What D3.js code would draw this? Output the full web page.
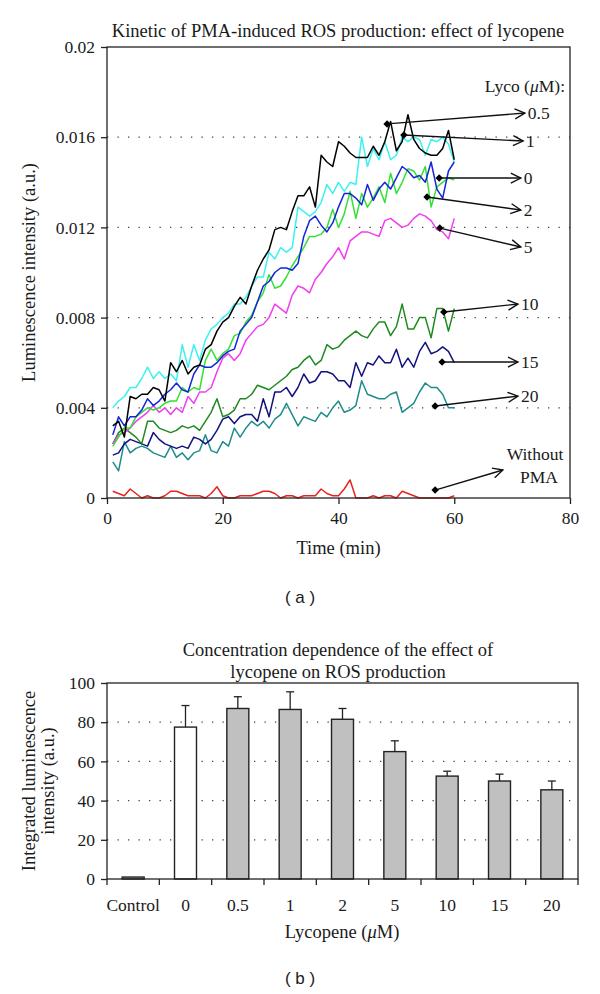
<!DOCTYPE html>
<html>
<head>
<meta charset="utf-8">
<script src="https://cdnjs.cloudflare.com/ajax/libs/d3/7.8.5/d3.min.js"></script>
<style>
  body { margin: 0; background: #fff; }
  svg text { font-family: "Liberation Serif", "DejaVu Serif", serif; fill: #1a1a1a; }
  .panel { font-family: "Liberation Sans", Arial, sans-serif; }
</style>
</head>
<body>
<svg id="chart" width="600" height="994"></svg>
<script>
// time points (min)
var minutes = [1,2,3,4,5,6,7,8,9,10,11,12,13,14,15,16,17,18,19,20,
  21,22,23,24,25,26,27,28,29,30,31,32,33,34,35,36,37,38,39,40,
  41,42,43,44,45,46,47,48,49,50,51,52,53,54,55,56,57,58,59,60];

// luminescence per lycopene concentration
var lyco05 = [0.0032,0.0034,0.0027,0.0045,0.0044,0.0046,0.0046,0.0049,0.0048,0.0043,
  0.0060,0.0056,0.0061,0.0055,0.0058,0.0059,0.0066,0.0068,0.0074,0.0078,
  0.0080,0.0085,0.0089,0.0086,0.0094,0.0101,0.0106,0.0110,0.0119,0.0120,
  0.0119,0.0127,0.0134,0.0134,0.0138,0.0129,0.0152,0.0149,0.0147,0.0158,
  0.0156,0.0153,0.0151,0.0151,0.0151,0.0156,0.0152,0.0158,0.0167,0.0154,
  0.0158,0.0170,0.0159,0.0155,0.0153,0.0152,0.0152,0.0155,0.0163,0.0150];
var lyco1 = [0.0040,0.0043,0.0045,0.0049,0.0049,0.0053,0.0058,0.0053,0.0056,0.0053,
  0.0055,0.0052,0.0068,0.0058,0.0068,0.0061,0.0070,0.0075,0.0077,0.0080,
  0.0082,0.0086,0.0086,0.0089,0.0094,0.0098,0.0098,0.0109,0.0106,0.0111,
  0.0109,0.0111,0.0129,0.0127,0.0125,0.0127,0.0131,0.0139,0.0135,0.0140,
  0.0136,0.0140,0.0139,0.0160,0.0147,0.0155,0.0150,0.0158,0.0150,0.0152,
  0.0160,0.0158,0.0160,0.0159,0.0152,0.0159,0.0158,0.0160,0.0157,0.0149];
var lyco0 = [0.0028,0.0036,0.0032,0.0036,0.0036,0.0039,0.0044,0.0041,0.0043,0.0046,
  0.0048,0.0051,0.0048,0.0047,0.0055,0.0059,0.0058,0.0058,0.0060,0.0063,
  0.0065,0.0066,0.0074,0.0077,0.0080,0.0087,0.0094,0.0096,0.0100,0.0102,
  0.0102,0.0101,0.0104,0.0116,0.0123,0.0125,0.0121,0.0118,0.0122,0.0129,
  0.0135,0.0135,0.0133,0.0130,0.0139,0.0132,0.0137,0.0140,0.0137,0.0142,
  0.0147,0.0145,0.0142,0.0143,0.0140,0.0149,0.0137,0.0133,0.0145,0.0149];
var lyco2 = [0.0023,0.0027,0.0031,0.0031,0.0036,0.0038,0.0040,0.0039,0.0040,0.0042,
  0.0043,0.0043,0.0049,0.0047,0.0049,0.0048,0.0061,0.0066,0.0061,0.0064,
  0.0066,0.0072,0.0073,0.0078,0.0081,0.0087,0.0091,0.0099,0.0093,0.0094,
  0.0098,0.0103,0.0107,0.0111,0.0116,0.0116,0.0117,0.0120,0.0128,0.0120,
  0.0126,0.0136,0.0124,0.0135,0.0129,0.0133,0.0138,0.0131,0.0144,0.0135,
  0.0140,0.0146,0.0145,0.0141,0.0147,0.0129,0.0138,0.0140,0.0142,0.0141];
var lyco5 = [0.0024,0.0028,0.0029,0.0031,0.0034,0.0036,0.0038,0.0041,0.0038,0.0040,
  0.0037,0.0040,0.0038,0.0045,0.0042,0.0047,0.0047,0.0049,0.0056,0.0062,
  0.0064,0.0061,0.0064,0.0070,0.0073,0.0076,0.0077,0.0080,0.0086,0.0084,
  0.0082,0.0090,0.0094,0.0093,0.0091,0.0097,0.0100,0.0104,0.0107,0.0111,
  0.0106,0.0114,0.0116,0.0118,0.0118,0.0117,0.0116,0.0123,0.0124,0.0122,
  0.0120,0.0121,0.0124,0.0126,0.0125,0.0123,0.0119,0.0118,0.0115,0.0124];
var lyco10 = [0.0024,0.0029,0.0031,0.0029,0.0027,0.0024,0.0034,0.0034,0.0031,0.0030,
  0.0029,0.0030,0.0032,0.0031,0.0032,0.0030,0.0034,0.0038,0.0044,0.0036,
  0.0037,0.0039,0.0044,0.0044,0.0046,0.0050,0.0049,0.0048,0.0050,0.0052,
  0.0054,0.0057,0.0058,0.0061,0.0063,0.0059,0.0061,0.0068,0.0066,0.0067,
  0.0070,0.0072,0.0074,0.0072,0.0071,0.0075,0.0078,0.0078,0.0072,0.0076,
  0.0086,0.0075,0.0075,0.0080,0.0080,0.0071,0.0084,0.0084,0.0074,0.0084];
var lyco15 = [0.0019,0.0020,0.0024,0.0026,0.0025,0.0024,0.0023,0.0029,0.0026,0.0024,
  0.0023,0.0022,0.0023,0.0022,0.0027,0.0026,0.0024,0.0026,0.0030,0.0035,
  0.0036,0.0033,0.0036,0.0037,0.0037,0.0034,0.0044,0.0036,0.0047,0.0047,
  0.0049,0.0045,0.0049,0.0055,0.0051,0.0052,0.0056,0.0056,0.0055,0.0052,
  0.0052,0.0049,0.0060,0.0054,0.0060,0.0059,0.0063,0.0060,0.0060,0.0066,
  0.0058,0.0062,0.0058,0.0065,0.0069,0.0064,0.0065,0.0067,0.0065,0.0060];
var lyco20 = [0.0016,0.0012,0.0025,0.0020,0.0022,0.0023,0.0022,0.0020,0.0019,0.0018,
  0.0023,0.0018,0.0020,0.0017,0.0020,0.0021,0.0028,0.0021,0.0020,0.0025,
  0.0023,0.0031,0.0027,0.0031,0.0034,0.0032,0.0034,0.0031,0.0035,0.0037,
  0.0042,0.0037,0.0032,0.0036,0.0035,0.0034,0.0038,0.0036,0.0040,0.0043,
  0.0038,0.0039,0.0041,0.0052,0.0046,0.0045,0.0044,0.0044,0.0046,0.0047,
  0.0038,0.0040,0.0042,0.0047,0.0051,0.0049,0.0049,0.0046,0.0040,0.0040];
var noPMA = [0.0003,0.0002,0.0001,0.0004,0.0002,0.0000,0.0001,0.0000,0.0000,0.0001,
  0.0003,0.0003,0.0002,0.0001,0.0001,0.0001,0.0000,0.0002,0.0005,0.0001,
  0.0000,0.0000,0.0001,0.0001,0.0001,0.0002,0.0003,0.0003,0.0002,0.0000,
  0.0001,0.0001,0.0000,0.0001,0.0001,0.0001,0.0004,0.0002,0.0001,0.0001,
  0.0004,0.0008,0.0000,0.0000,0.0000,0.0001,0.0000,0.0001,0.0001,0.0000,
  0.0003,0.0002,0.0001,0.0000,0.0000,0.0000,0.0000,0.0000,0.0000,0.0001];

// bar chart (b)
var concLabels = ["Control","0","0.5","1","2","5","10","15","20"];
var integrated = [1, 77.5, 87, 86.5, 81.5, 65, 52.5, 50, 45.5];
var integratedErr = [0, 11, 6, 9, 5.5, 5.5, 2.5, 3.5, 4.5];

var timeTicks = [0, 20, 40, 60, 80];
var lumTicks = [0, 0.004, 0.008, 0.012, 0.016, 0.02];
var barTicks = [0, 20, 40, 60, 80, 100];

// drawing order: back to front
var series = [
  {name: "noPMA", values: noPMA, color: "#e8231e"},
  {name: "20", values: lyco20, color: "#1f8c8c"},
  {name: "15", values: lyco15, color: "#12127e"},
  {name: "10", values: lyco10, color: "#1e8a1e"},
  {name: "5", values: lyco5, color: "#f23cf2"},
  {name: "2", values: lyco2, color: "#33e033"},
  {name: "1", values: lyco1, color: "#3ef0f0"},
  {name: "0", values: lyco0, color: "#1526d8"},
  {name: "0.5", values: lyco05, color: "#000000"}
];

// callouts: point on curve (t, v) -> arrow tip (t, v)
var callouts = [
  {label: ["0.5"], from: [48.4, 0.01659], to: [72.2, 0.01707]},
  {label: ["1"], from: [51.3, 0.0161], to: [71.9, 0.01583]},
  {label: ["0"], from: [57.4, 0.01419], to: [71.5, 0.01419]},
  {label: ["2"], from: [55.3, 0.01335], to: [71.5, 0.01277]},
  {label: ["5"], from: [57.5, 0.01197], to: [71.5, 0.01113]},
  {label: ["10"], from: [58.2, 0.00825], to: [71.0, 0.0086]},
  {label: ["15"], from: [57.9, 0.00603], to: [71.0, 0.00603]},
  {label: ["20"], from: [56.7, 0.00408], to: [71.0, 0.00452]},
  {label: ["Without", "PMA"], from: [56.7, 0.00035], to: [68.4, 0.00124]}
];

var tickFont = 17.5, titleFont = 18.5;

var svg = d3.select("#chart");

// ---------- panel (a) ----------
var x = d3.scaleLinear().domain([0, 80]).range([107, 570]);
var y = d3.scaleLinear().domain([0, 0.02]).range([498, 47]);

var kinetic = svg.append("g").attr("class", "kinetic");

kinetic.append("g").selectAll("line")
  .data([0.004, 0.008, 0.012, 0.016])
  .enter().append("line")
    .attr("x1", x(0)).attr("x2", x(80))
    .attr("y1", function(d){ return y(d); })
    .attr("y2", function(d){ return y(d); })
    .attr("stroke", "#444")
    .attr("stroke-width", 1.3)
    .attr("stroke-dasharray", "1.3,9.2");

var line = d3.line()
  .x(function(d, i){ return x(minutes[i]); })
  .y(function(d){ return y(d); });

kinetic.append("g").selectAll("path")
  .data(series)
  .enter().append("path")
    .attr("d", function(d){ return line(d.values); })
    .attr("fill", "none")
    .attr("stroke", function(d){ return d.color; })
    .attr("stroke-width", 1.5)
    .attr("stroke-linejoin", "round");

// frame
kinetic.append("rect")
  .attr("x", x(0)).attr("y", y(0.02))
  .attr("width", x(80) - x(0)).attr("height", y(0) - y(0.02))
  .attr("fill", "none").attr("stroke", "#222").attr("stroke-width", 1.3);

var yAxis = kinetic.append("g")
  .attr("transform", "translate(" + x(0) + ",0)")
  .call(d3.axisLeft(y).tickValues(lumTicks).tickSize(6).tickPadding(6)
    .tickFormat(d3.format(".3~f")));
var xAxis = kinetic.append("g")
  .attr("transform", "translate(0," + y(0) + ")")
  .call(d3.axisBottom(x).tickValues(timeTicks).tickSize(6).tickPadding(8));

[yAxis, xAxis].forEach(function(a){
  a.select(".domain").remove();
  a.selectAll("line").attr("stroke", "#222").attr("stroke-width", 1.3);
  a.selectAll("text").attr("font-size", tickFont).attr("font-family", "Liberation Serif").attr("fill", "#1a1a1a");
});

kinetic.append("text")
  .attr("x", 338).attr("y", 37)
  .attr("text-anchor", "middle").attr("font-size", titleFont)
  .text("Kinetic of PMA-induced ROS production: effect of lycopene");

kinetic.append("text")
  .attr("transform", "translate(35," + ((y(0) + y(0.02)) / 2) + ") rotate(-90)")
  .attr("text-anchor", "middle").attr("font-size", titleFont)
  .text("Luminescence intensity (a.u.)");

kinetic.append("text")
  .attr("x", x(40)).attr("y", 554)
  .attr("text-anchor", "middle").attr("font-size", titleFont)
  .text("Time (min)");

var lycoTitle = kinetic.append("text")
  .attr("x", 565).attr("y", 92)
  .attr("text-anchor", "end").attr("font-size", tickFont);
lycoTitle.append("tspan").text("Lyco (");
lycoTitle.append("tspan").attr("font-style", "italic").text("\u03bc");
lycoTitle.append("tspan").text("M):");

// arrow head
svg.append("defs").append("marker")
  .attr("id", "chev")
  .attr("markerUnits", "userSpaceOnUse")
  .attr("viewBox", "-11 -6 13 12")
  .attr("markerWidth", 13).attr("markerHeight", 12)
  .attr("refX", 0).attr("refY", 0)
  .attr("orient", "auto")
  .append("path")
    .attr("d", "M-10,-5 L0,0 L-10,5")
    .attr("fill", "none").attr("stroke", "#111").attr("stroke-width", 1.4);

var notes = kinetic.append("g").selectAll("g")
  .data(callouts)
  .enter().append("g")
    .attr("class", "callout");

notes.append("line")
  .attr("x1", function(d){ return x(d.from[0]); })
  .attr("y1", function(d){ return y(d.from[1]); })
  .attr("x2", function(d){ return x(d.to[0]); })
  .attr("y2", function(d){ return y(d.to[1]); })
  .attr("stroke", "#111").attr("stroke-width", 1.4)
  .attr("marker-end", "url(#chev)");

notes.append("path")
  .attr("d", d3.symbol().type(d3.symbolSquare).size(28))
  .attr("transform", function(d){
    return "translate(" + x(d.from[0]) + "," + y(d.from[1]) + ") rotate(45)";
  })
  .attr("fill", "#000");

notes.each(function(d){
  var g = d3.select(this);
  if (d.label.length === 1) {
    g.append("text")
      .attr("x", x(d.to[0]) + 3).attr("y", y(d.to[1]) + 6)
      .attr("font-size", tickFont)
      .text(d.label[0]);
  } else {
    g.append("text")
      .attr("x", 535).attr("y", y(d.to[1]) - 10)
      .attr("text-anchor", "middle").attr("font-size", tickFont)
      .text(d.label[0]);
    g.append("text")
      .attr("x", 539).attr("y", y(d.to[1]) + 13)
      .attr("text-anchor", "middle").attr("font-size", tickFont)
      .text(d.label[1]);
  }
});

svg.append("text")
  .attr("class", "panel")
  .attr("x", 300).attr("y", 603)
  .attr("text-anchor", "middle").attr("font-size", 17)
  .attr("xml:space", "preserve")
  .text("( a )");

// ---------- panel (b) ----------
var xb = d3.scaleBand().domain(concLabels).range([107, 578]);
var yb = d3.scaleLinear().domain([0, 100]).range([879, 683]);
var barW = xb.bandwidth() * 0.42;

var bottom = svg.append("g").attr("class", "bars");

bottom.append("g").selectAll("line")
  .data([20, 40, 60, 80])
  .enter().append("line")
    .attr("x1", xb.range()[0]).attr("x2", xb.range()[1])
    .attr("y1", function(d){ return yb(d); })
    .attr("y2", function(d){ return yb(d); })
    .attr("stroke", "#444")
    .attr("stroke-width", 1.3)
    .attr("stroke-dasharray", "1.3,9.2");

var bars = bottom.append("g").selectAll("g")
  .data(concLabels)
  .enter().append("g");

// error bars (upper only)
bars.filter(function(d, i){ return integratedErr[i] > 0; })
  .each(function(d){
    var i = concLabels.indexOf(d);
    var cx = xb(d) + xb.bandwidth() / 2;
    var g = d3.select(this);
    g.append("line")
      .attr("x1", cx).attr("x2", cx)
      .attr("y1", yb(integrated[i])).attr("y2", yb(integrated[i] + integratedErr[i]))
      .attr("stroke", "#222").attr("stroke-width", 1.3);
    g.append("line")
      .attr("x1", cx - 4).attr("x2", cx + 4)
      .attr("y1", yb(integrated[i] + integratedErr[i]))
      .attr("y2", yb(integrated[i] + integratedErr[i]))
      .attr("stroke", "#222").attr("stroke-width", 1.3);
  });

bars.append("rect")
  .attr("x", function(d){ return xb(d) + (xb.bandwidth() - barW) / 2; })
  .attr("y", function(d, i){ return yb(integrated[i]); })
  .attr("width", barW)
  .attr("height", function(d, i){ return yb(0) - yb(integrated[i]); })
  .attr("fill", function(d){ return d === "0" ? "#ffffff" : "#c0c0c0"; })
  .attr("stroke", "#222").attr("stroke-width", 1.4);

bottom.append("rect")
  .attr("x", xb.range()[0]).attr("y", yb(100))
  .attr("width", xb.range()[1] - xb.range()[0]).attr("height", yb(0) - yb(100))
  .attr("fill", "none").attr("stroke", "#222").attr("stroke-width", 1.3);

// category boundary ticks
bottom.append("g").selectAll("line")
  .data(concLabels.concat(["end"]))
  .enter().append("line")
    .attr("x1", function(d){ return d === "end" ? xb.range()[1] : xb(d); })
    .attr("x2", function(d){ return d === "end" ? xb.range()[1] : xb(d); })
    .attr("y1", yb(0)).attr("y2", yb(0) + 6)
    .attr("stroke", "#222").attr("stroke-width", 1.3);

bottom.append("g").selectAll("text")
  .data(concLabels)
  .enter().append("text")
    .attr("x", function(d){ return xb(d) + xb.bandwidth() / 2; })
    .attr("y", 911)
    .attr("text-anchor", "middle").attr("font-size", tickFont)
    .text(function(d){ return d; });

var ybAxis = bottom.append("g")
  .attr("transform", "translate(" + xb.range()[0] + ",0)")
  .call(d3.axisLeft(yb).tickValues(barTicks).tickSize(6).tickPadding(6));
ybAxis.select(".domain").remove();
ybAxis.selectAll("line").attr("stroke", "#222").attr("stroke-width", 1.3);
ybAxis.selectAll("text").attr("font-size", tickFont).attr("font-family", "Liberation Serif").attr("fill", "#1a1a1a");

bottom.append("text")
  .attr("x", 338).attr("y", 656)
  .attr("text-anchor", "middle").attr("font-size", titleFont)
  .text("Concentration dependence of the effect of");
bottom.append("text")
  .attr("x", 338).attr("y", 678)
  .attr("text-anchor", "middle").attr("font-size", titleFont)
  .text("lycopene on ROS production");

var ybLabel = bottom.append("text")
  .attr("transform", "translate(0," + ((yb(0) + yb(100)) / 2) + ") rotate(-90)")
  .attr("text-anchor", "middle").attr("font-size", titleFont);
ybLabel.append("tspan").attr("x", 0).attr("y", 35).text("Integrated luminescence");
ybLabel.append("tspan").attr("x", 0).attr("y", 54).text("intensity (a.u.)");

var lycoLabel = bottom.append("text")
  .attr("x", 342).attr("y", 938)
  .attr("text-anchor", "middle").attr("font-size", titleFont);
lycoLabel.append("tspan").text("Lycopene (");
lycoLabel.append("tspan").attr("font-style", "italic").text("\u03bc");
lycoLabel.append("tspan").text("M)");

svg.append("text")
  .attr("class", "panel")
  .attr("x", 300).attr("y", 984)
  .attr("text-anchor", "middle").attr("font-size", 17)
  .attr("xml:space", "preserve")
  .text("( b )");
</script>
</body>
</html>
